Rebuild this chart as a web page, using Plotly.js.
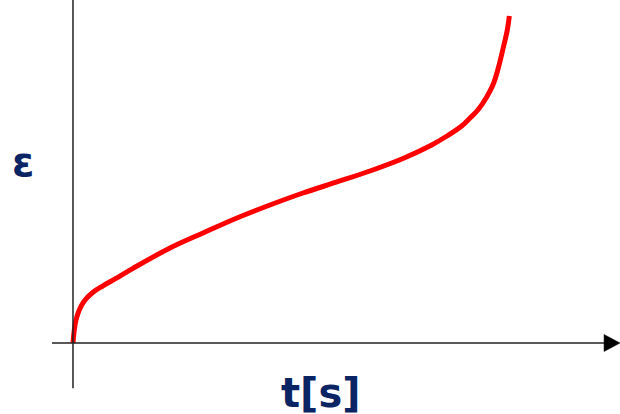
<!DOCTYPE html>
<html>
<head>
<meta charset="utf-8">
<script src="https://cdn.plot.ly/plotly-3.0.1.min.js"></script>
<style>html,body{margin:0;padding:0;background:#fff;}#chart{width:620px;height:414px;}</style>
</head>
<body>
<div id="chart"></div>
<script>
// Creep curve: strain (eps) versus time (t), arbitrary units 0..100
const timeValues = [0, 0.30, 0.69, 1.44, 2.59, 4.52, 6.81, 9.86, 13.76, 22.25, 29.82, 37.61, 45.18, 52.75, 60.55, 68.12, 75.69, 82.27, 85.78, 89.15, 91.06, 92.96, 94.89, 96.40, 97.55, 98.56, 99.61, 100.07];
const strainValues = [0, 3.98, 7.03, 10.09, 12.84, 15.44, 17.43, 19.79, 22.84, 29.05, 33.64, 38.23, 42.20, 45.87, 49.24, 52.60, 56.42, 60.55, 63.30, 66.36, 68.81, 71.41, 75.23, 79.20, 84.10, 89.60, 95.72, 100];
const xLabel = "t[s]";
const yLabel = "ε";

const navy = "#0b2463";
const axisColor = "#222222";

const trace = {
  x: timeValues,
  y: strainValues,
  mode: "lines",
  type: "scatter",
  line: {color: "#ff0000", width: 5, shape: "spline", smoothing: 1},
  hoverinfo: "skip"
};

const layout = {
  width: 620,
  height: 414,
  margin: {l: 0, r: 0, t: 0, b: 0},
  paper_bgcolor: "#ffffff",
  plot_bgcolor: "#ffffff",
  showlegend: false,
  xaxis: {range: [-16.74, 125.46], visible: false, fixedrange: true},
  yaxis: {range: [-21.71, 104.89], visible: false, fixedrange: true},
  shapes: [
    {type: "line", xref: "x", yref: "y", x0: -4.82, x1: 122.5, y0: 0, y1: 0,
     line: {color: axisColor, width: 1.5}},
    {type: "path", xref: "x", yref: "y",
     path: "M 121.8 2.6 L 125.46 0 L 121.8 -2.6 Z",
     fillcolor: "#000000", line: {color: "#000000", width: 0.5}},
    {type: "line", xref: "x", yref: "y", x0: 0, x1: 0, y0: -13.8, y1: 104.89,
     line: {color: axisColor, width: 1.5}}
  ],
  annotations: [
    {x: -11.4, y: 55.4, xref: "x", yref: "y", text: yLabel, showarrow: false,
     font: {family: "DejaVu Sans", size: 40, color: navy, weight: "bold"}},
    {x: 56.9, y: -15.2, xref: "x", yref: "y", text: xLabel, showarrow: false,
     font: {family: "DejaVu Sans", size: 40, color: navy, weight: "bold"}}
  ]
};

Plotly.newPlot("chart", [trace], layout, {displayModeBar: false, staticPlot: true});
</script>
</body>
</html>
